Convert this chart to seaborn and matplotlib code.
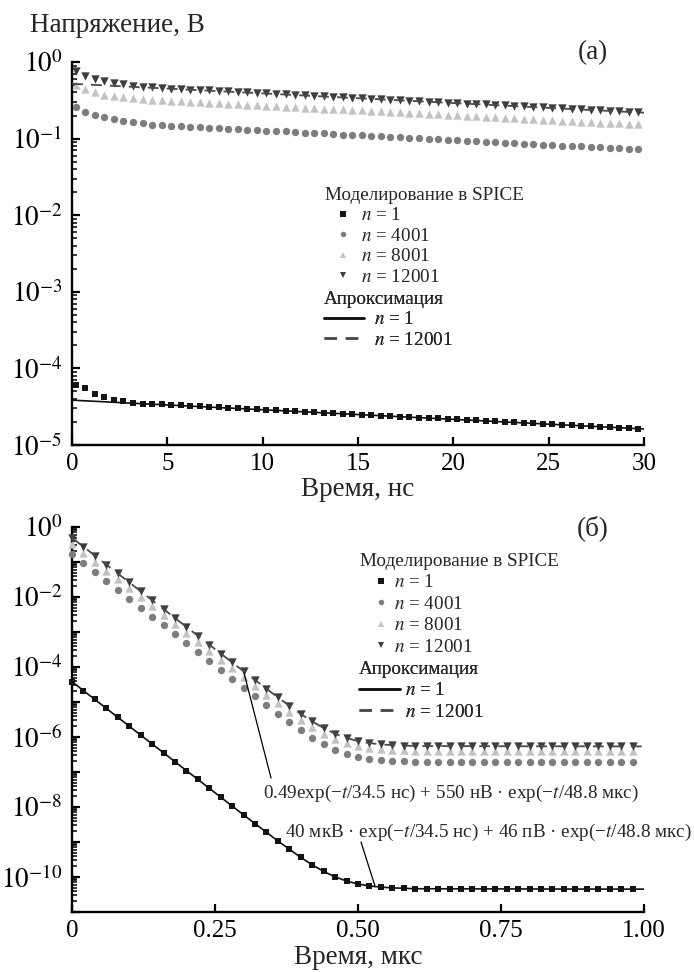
import numpy as np
import pandas as pd
import matplotlib
matplotlib.use("Agg")
import matplotlib.pyplot as plt
import seaborn as sns
from matplotlib.ticker import FixedLocator, FuncFormatter, NullFormatter, LogLocator
from matplotlib.lines import Line2D

# ---------------- data: panel (a), time in ns, SPICE samples ----------------
a_n1 = np.array([6.1, 5.5, 4.7, 4.2, 3.9, 3.7, 3.55, 3.48, 3.43, 3.38, 3.33, 3.28, 3.24, 3.19,
                 3.14, 3.10, 3.05, 3.01, 2.97, 2.92, 2.88, 2.84, 2.80, 2.76, 2.72, 2.68, 2.64,
                 2.60, 2.57, 2.53, 2.49, 2.46, 2.42, 2.39, 2.35, 2.32, 2.28, 2.25, 2.22, 2.19,
                 2.16, 2.13, 2.09, 2.06, 2.03, 2.01, 1.98, 1.95, 1.92, 1.89, 1.87, 1.84, 1.81,
                 1.79, 1.76, 1.74, 1.71, 1.69, 1.66, 1.64]) * 1e-5
a_n4001 = [0.26, 0.225, 0.205, 0.19, 0.18, 0.172, 0.165, 0.158, 0.152, 0.149, 0.147, 0.145,
           0.143, 0.141, 0.139, 0.137, 0.135, 0.133, 0.131, 0.129, 0.127, 0.125, 0.124, 0.122,
           0.120, 0.118, 0.117, 0.115, 0.113, 0.112, 0.110, 0.108, 0.107, 0.105, 0.104, 0.102,
           0.101, 0.0995, 0.098, 0.0966, 0.0952, 0.0938, 0.0925, 0.0912, 0.0898, 0.0886,
           0.0873, 0.0860, 0.0848, 0.0836, 0.0824, 0.0812, 0.0800, 0.0789, 0.0777, 0.0766,
           0.0755, 0.0744, 0.0734, 0.0723]
a_n8001 = [0.50, 0.44, 0.40, 0.375, 0.355, 0.345, 0.335, 0.327, 0.320, 0.316, 0.311, 0.307,
           0.303, 0.298, 0.294, 0.290, 0.286, 0.281, 0.277, 0.273, 0.269, 0.266, 0.262, 0.258,
           0.254, 0.251, 0.247, 0.243, 0.240, 0.236, 0.233, 0.230, 0.226, 0.223, 0.220, 0.217,
           0.214, 0.211, 0.208, 0.205, 0.202, 0.199, 0.196, 0.193, 0.190, 0.188, 0.185, 0.182,
           0.180, 0.177, 0.174, 0.172, 0.169, 0.167, 0.165, 0.162, 0.160, 0.158, 0.155, 0.153]
a_n12001 = [0.76, 0.66, 0.60, 0.56, 0.53, 0.51, 0.49, 0.475, 0.465, 0.456, 0.450, 0.443,
            0.437, 0.431, 0.425, 0.418, 0.412, 0.406, 0.401, 0.395, 0.389, 0.384, 0.378,
            0.373, 0.367, 0.362, 0.357, 0.352, 0.347, 0.342, 0.337, 0.332, 0.327, 0.322,
            0.318, 0.313, 0.309, 0.304, 0.300, 0.295, 0.291, 0.287, 0.283, 0.279, 0.275,
            0.271, 0.267, 0.263, 0.259, 0.256, 0.252, 0.248, 0.245, 0.241, 0.238, 0.234,
            0.231, 0.228, 0.224, 0.221]
# approximation lines, panel (a)
a_fit_t = [0, 30]
a_fit_n1 = [3.85e-5, 1.62e-5]
a_fit_n12001 = [0.52, 0.218]

# ---------------- data: panel (б), time in us ----------------
b_n1 = [3.80e-5, 2.12e-5, 1.18e-5, 6.58e-6, 3.66e-6, 2.04e-6, 1.14e-6, 6.34e-7, 3.53e-7,
        1.97e-7, 1.10e-7, 6.11e-8, 3.40e-8, 1.90e-8, 1.06e-8, 5.94e-9, 3.33e-9, 1.88e-9,
        1.07e-9, 6.14e-10, 3.62e-10, 2.22e-10, 1.44e-10, 1.01e-10, 7.65e-11, 6.3e-11,
        5.55e-11, 5.13e-11, 4.89e-11, 4.76e-11, 4.68e-11, 4.63e-11, 4.61e-11,
        4.60e-11, 4.59e-11, 4.59e-11, 4.58e-11, 4.57e-11, 4.57e-11, 4.56e-11, 4.55e-11,
        4.55e-11, 4.54e-11, 4.53e-11, 4.53e-11, 4.52e-11, 4.51e-11, 4.51e-11, 4.50e-11,
        4.50e-11]
b_n4001 = [0.167, 0.093, 0.0518, 0.0288, 0.0160, 0.00893, 0.00498, 0.00277, 0.00154,
           8.58e-4, 4.78e-4, 2.66e-4, 1.48e-4, 8.27e-5, 4.61e-5, 2.57e-5, 1.44e-5, 8.13e-6,
           4.6e-6, 2.65e-6, 1.56e-6, 9.55e-7, 6.19e-7, 4.3e-7, 3.26e-7, 2.68e-7, 2.35e-7,
           2.17e-7, 2.07e-7, 2.01e-7, 1.98e-7, 1.96e-7, 1.95e-7,
           1.95e-7, 1.94e-7, 1.94e-7, 1.94e-7, 1.93e-7, 1.93e-7, 1.93e-7, 1.92e-7, 1.92e-7,
           1.92e-7, 1.92e-7, 1.91e-7, 1.91e-7, 1.91e-7, 1.91e-7, 1.91e-7, 1.90e-7]
b_n8001 = [0.33, 0.184, 0.102, 0.057, 0.0317, 0.0177, 0.00983, 0.00548, 0.00305, 0.0017,
           9.44e-4, 5.25e-4, 2.93e-4, 1.63e-4, 9.12e-5, 5.09e-5, 2.85e-5, 1.61e-5, 9.11e-6,
           5.25e-6, 3.10e-6, 1.90e-6, 1.24e-6, 8.65e-7, 6.6e-7, 5.45e-7, 4.8e-7, 4.44e-7,
           4.24e-7, 4.12e-7, 4.06e-7, 4.02e-7, 4.0e-7,
           3.99e-7, 3.99e-7, 3.98e-7, 3.98e-7, 3.97e-7, 3.97e-7, 3.96e-7, 3.96e-7, 3.95e-7,
           3.95e-7, 3.94e-7, 3.94e-7, 3.93e-7, 3.93e-7, 3.92e-7, 3.92e-7, 3.92e-7]
b_n12001 = [0.49, 0.273, 0.152, 0.0846, 0.0471, 0.0262, 0.0146, 0.00813, 0.00453, 0.00252,
            0.00140, 7.79e-4, 4.35e-4, 2.42e-4, 1.35e-4, 7.55e-5, 4.23e-5, 2.38e-5, 1.35e-5,
            7.75e-6, 4.56e-6, 2.78e-6, 1.80e-6, 1.24e-6, 9.36e-7, 7.65e-7, 6.69e-7, 6.16e-7,
            5.85e-7, 5.69e-7, 5.58e-7, 5.53e-7, 5.49e-7,
            5.48e-7, 5.47e-7, 5.47e-7, 5.46e-7, 5.46e-7, 5.45e-7, 5.44e-7, 5.44e-7, 5.43e-7,
            5.43e-7, 5.42e-7, 5.41e-7, 5.41e-7, 5.40e-7, 5.40e-7, 5.39e-7, 5.39e-7]
b_fit_t = [0, 0.1, 0.2, 0.3, 0.36, 0.4, 0.42, 0.44, 0.46, 0.48, 0.50, 0.52, 0.54, 0.56,
           0.6, 0.7, 0.8, 0.9, 1.0]
b_fit_n1 = [3.8e-5, 2.04e-6, 1.10e-7, 5.94e-9, 1.07e-9, 3.62e-10, 2.22e-10, 1.44e-10,
            1.01e-10, 7.65e-11, 6.3e-11, 5.55e-11, 5.13e-11, 4.89e-11, 4.63e-11, 4.58e-11,
            4.55e-11, 4.52e-11, 4.5e-11]
b_fit_n12001 = [0.49, 0.0262, 1.40e-3, 7.55e-5, 1.35e-5, 4.56e-6, 2.78e-6, 1.80e-6,
                1.24e-6, 9.36e-7, 7.65e-7, 6.69e-7, 6.16e-7, 5.85e-7, 5.53e-7, 5.46e-7,
                5.43e-7, 5.41e-7, 5.39e-7]

labels_sim = [r"$n$ = 1", r"$n$ = 4001", r"$n$ = 8001", r"$n$ = 12001"]
labels_fit = [r"$n$ = 1", r"$n$ = 12001"]
a_xticks = [0, 5, 10, 15, 20, 25, 30]
b_xticks = [0, 0.25, 0.50, 0.75, 1.00]
b_xticklabels = ["0", "0.25", "0.50", "0.75", "1.00"]

# ---------------- style ----------------
sns.set_theme(style="ticks")
plt.rcParams["font.family"] = ["Liberation Serif", "DejaVu Serif"]
plt.rcParams["mathtext.fontset"] = "stix"
plt.rcParams["axes.unicode_minus"] = True

C = {"n1": "#151515", "n4001": "#7d7d7d", "n8001": "#c3c3c3", "n12001": "#3d3d3d"}
MK = {"n1": "s", "n4001": "o", "n8001": "^", "n12001": "v"}
SZ = {"n1": 24, "n4001": 28, "n8001": 36, "n12001": 36}
LC_SOLID = "#111111"
LC_DASH = "#4a4a4a"
DASH = (0, (6, 4.5))

fig = plt.figure(figsize=(6.94, 9.72), dpi=100)
ax1 = fig.add_axes([72 / 694, 1 - 445 / 972, 572 / 694, 383 / 972])
ax2 = fig.add_axes([72 / 694, 1 - 912 / 972, 572 / 694, 385 / 972])

for ax in (ax1, ax2):
    ax.set_yscale("log")


def draw(ax, dt, t0, series, fit_t, fit1, fit2):
    order = ["n4001", "n8001", "n12001", "n1"]
    for key in order:
        vals = np.asarray(series[key], dtype=float)
        t = t0 + dt * np.arange(len(vals))
        df = pd.DataFrame({"t": t, "v": vals})
        sns.scatterplot(data=df, x="t", y="v", ax=ax, marker=MK[key], color=C[key],
                        s=SZ[key], linewidth=0, legend=False, zorder=3, clip_on=False)
    sns.lineplot(x=fit_t, y=fit1, ax=ax, color=LC_SOLID, lw=1.2, legend=False,
                 errorbar=None, zorder=4)
    sns.lineplot(x=fit_t, y=fit2, ax=ax, color=LC_DASH, lw=1.3, linestyle=DASH,
                 legend=False, errorbar=None, zorder=4)


draw(ax1, 0.5, 0.2, {"n1": a_n1, "n4001": a_n4001, "n8001": a_n8001, "n12001": a_n12001},
     a_fit_t, a_fit_n1, a_fit_n12001)
draw(ax2, 0.02, 0.0, {"n1": b_n1, "n4001": b_n4001, "n8001": b_n8001, "n12001": b_n12001},
     b_fit_t, b_fit_n1, b_fit_n12001)


def sci(v, pos):
    return r"$10^{%d}$" % int(round(np.log10(v)))


def sci_even(v, pos):
    e = int(round(np.log10(v)))
    return r"$10^{%d}$" % e if e % 2 == 0 else ""


ax1.set_xlim(0, 30)
ax1.set_ylim(1e-5, 1)
ax1.xaxis.set_major_locator(FixedLocator(a_xticks))
ax1.set_xticklabels([str(v) for v in a_xticks])
ax1.yaxis.set_major_locator(FixedLocator([10.0 ** e for e in range(-5, 1)]))
ax1.yaxis.set_major_formatter(FuncFormatter(sci))

ax2.set_xlim(0, 1)
ax2.set_ylim(1e-11, 1)
ax2.xaxis.set_major_locator(FixedLocator(b_xticks))
ax2.set_xticklabels(b_xticklabels)
ax2.yaxis.set_major_locator(FixedLocator([10.0 ** e for e in range(-11, 1)]))
ax2.yaxis.set_major_formatter(FuncFormatter(sci_even))

for ax in (ax1, ax2):
    ax.yaxis.set_minor_locator(LogLocator(base=10, subs=np.arange(2, 10), numticks=100))
    ax.yaxis.set_minor_formatter(NullFormatter())
    ax.tick_params(axis="both", which="major", direction="in", length=6, width=1.6,
                   color="black", labelcolor="black")
    ax.tick_params(axis="y", which="major", labelsize=19.5, pad=7)
    ax.tick_params(axis="x", which="major", labelsize=18, pad=6)
    ax.tick_params(axis="y", which="minor", direction="in", length=3.5, width=1.1,
                   color="black")
    ax.tick_params(axis="x", which="minor", bottom=False)
    for s in ("top", "right"):
        ax.spines[s].set_visible(False)
    for s in ("left", "bottom"):
        ax.spines[s].set_linewidth(1.7)
        ax.spines[s].set_color("black")
    ax.set_facecolor("white")

# axis labels
LABFS = 19.5
ax1.set_xlabel("Время, нс", fontsize=LABFS)
ax1.xaxis.set_label_coords(0.5, -45 / 383)
ax1.xaxis.label.set_va("center")
ax1.set_ylabel("Напряжение, В", fontsize=LABFS, rotation=0)
ax1.yaxis.label.set_ha("left")
ax1.yaxis.label.set_va("center")
ax1.yaxis.set_label_coords(-42 / 572, (445 - 25) / 383)

ax2.set_xlabel("Время, мкс", fontsize=LABFS)
ax2.xaxis.set_label_coords(0.5, -45 / 385)
ax2.xaxis.label.set_va("center")
ax2.set_ylabel("")

ax1.text((593 - 72) / 572, (445 - 53) / 383, "(а)", transform=ax1.transAxes,
         ha="center", va="center", fontsize=LABFS)
ax2.text((593 - 72) / 572, (912 - 528) / 385, "(б)", transform=ax2.transAxes,
         ha="center", va="center", fontsize=LABFS)


# legends
def sim_handles():
    return [Line2D([], [], ls="", marker=MK[k], color=C[k], markersize=np.sqrt(SZ[k]),
                   markeredgewidth=0) for k in ("n1", "n4001", "n8001", "n12001")]


def fit_handles():
    return [Line2D([], [], color=LC_SOLID, lw=1.8),
            Line2D([], [], color=LC_DASH, lw=1.8, linestyle=(0, (5, 3.5)))]


LFS = 13.8


def legends(ax, xa, ya, xb, yb, hl_a, hp_a, hl_b, hp_b, ls):
    la = ax.legend(sim_handles(), labels_sim, title="Моделирование в SPICE",
                   loc="upper left", bbox_to_anchor=(xa, ya), frameon=False,
                   fontsize=LFS, title_fontsize=LFS, handlelength=hl_a,
                   handletextpad=hp_a, labelspacing=ls, borderpad=0, borderaxespad=0,
                   markerscale=0.75, alignment="left", numpoints=1)
    ax.add_artist(la)
    lb = ax.legend(fit_handles(), labels_fit, title="Апроксимация",
                   loc="upper left", bbox_to_anchor=(xb, yb), frameon=False,
                   fontsize=LFS, title_fontsize=LFS, handlelength=hl_b,
                   handletextpad=hp_b, labelspacing=ls, borderpad=0, borderaxespad=0,
                   alignment="left")
    ax.add_artist(lb)


legends(ax1, (325 - 72) / 572, (445 - 187) / 383, (324 - 72) / 572,
        (445 - 291) / 383, 1.92, -0.05, 2.08, 0.53, 0.16)
legends(ax2, (360 - 72) / 572, (912 - 553) / 385, (359 - 72) / 572,
        (912 - 661) / 385, 2.24, -0.45, 2.13, 0.27, 0.21)

# annotations on panel (б)
ax2.text((263 - 72) / 572, (912 - 793) / 385,
         "0.49exp(−$t$/34.5 нс) + 550 нВ · exp(−$t$/48.8 мкс)",
         transform=ax2.transAxes, ha="left", va="center", fontsize=LFS)
ax2.text((285 - 72) / 572, (912 - 832) / 385,
         "40 мкВ · exp(−$t$/34.5 нс) + 46 пВ · exp(−$t$/48.8 мкс)",
         transform=ax2.transAxes, ha="left", va="center", fontsize=LFS)
ax2.annotate("", xy=(0.30, 7.5e-5), xycoords="data",
             xytext=((271 - 72) / 572, (912 - 778) / 385), textcoords="axes fraction",
             arrowprops=dict(arrowstyle="-", color="black", lw=0.9, shrinkA=0, shrinkB=0))
ax2.annotate("", xy=(0.53, 5.3e-11), xycoords="data",
             xytext=((361 - 72) / 572, (912 - 842) / 385), textcoords="axes fraction",
             arrowprops=dict(arrowstyle="-", color="black", lw=0.9, shrinkA=0, shrinkB=0))

fig.savefig("out.png", dpi=100, facecolor="white")
